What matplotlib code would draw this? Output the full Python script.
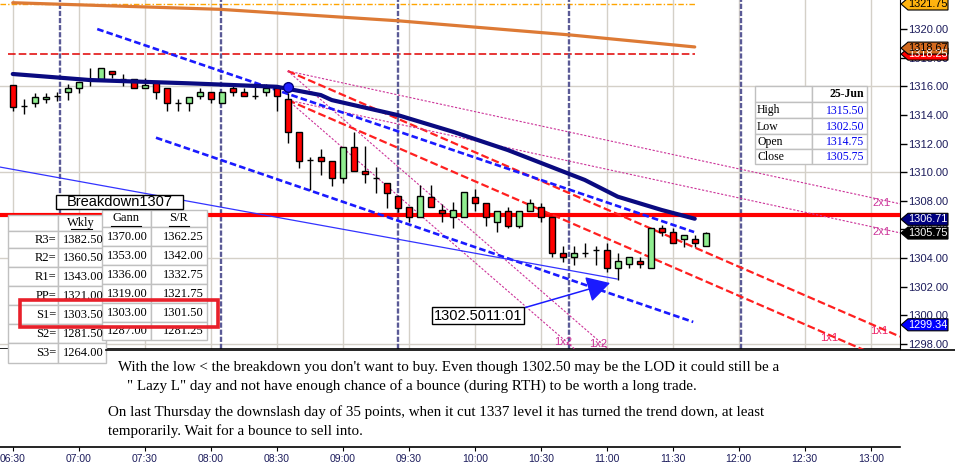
import numpy as np
import matplotlib
matplotlib.use("Agg")
import matplotlib.pyplot as plt
from matplotlib.patches import Rectangle, Polygon
from matplotlib.lines import Line2D
from matplotlib.transforms import blended_transform_factory

plt.rcParams['font.family'] = ['Liberation Sans', 'DejaVu Sans']

W, H = 955, 471

# 5 minute bars, 06:30 .. 11:45 (minutes after midnight)
bar_t = np.arange(390, 706, 5)
opens = [1316.07, 1314.60, 1314.80, 1315.10, 1315.30, 1315.58, 1315.86, 1316.50, 1316.50, 1317.10,
         1316.50, 1316.50, 1315.86, 1316.28, 1315.86, 1314.80, 1314.80, 1315.32, 1315.58, 1314.81,
         1315.86, 1315.58, 1315.30, 1315.58, 1315.86, 1315.09, 1312.83, 1310.85, 1311.04, 1310.80,
         1309.57, 1311.78, 1310.08, 1309.57, 1309.27, 1308.34, 1307.55, 1306.85, 1308.30, 1307.36,
         1306.85, 1306.85, 1308.30, 1307.83, 1306.55, 1307.30, 1306.26, 1307.30, 1307.55, 1306.85,
         1304.34, 1304.06, 1304.34, 1304.57, 1304.57, 1303.29, 1303.57, 1303.80, 1303.29, 1306.08,
         1305.80, 1305.30, 1305.30, 1304.87]
highs = [1316.10, 1315.10, 1315.55, 1315.55, 1315.60, 1316.14, 1316.32, 1317.30, 1317.30, 1317.10,
         1316.84, 1316.50, 1316.55, 1316.28, 1315.86, 1315.10, 1315.27, 1315.86, 1315.58, 1315.58,
         1316.07, 1315.86, 1316.07, 1316.14, 1315.86, 1315.50, 1312.83, 1311.04, 1311.60, 1310.80,
         1311.78, 1312.83, 1311.83, 1310.34, 1309.27, 1308.34, 1307.55, 1309.10, 1309.10, 1307.78,
         1307.94, 1308.60, 1308.80, 1307.83, 1307.30, 1307.55, 1307.30, 1308.10, 1307.83, 1306.85,
         1304.85, 1304.85, 1305.03, 1304.85, 1305.03, 1304.38, 1304.06, 1304.06, 1306.08, 1306.30,
         1306.08, 1305.60, 1305.60, 1305.80]
lows = [1314.27, 1314.05, 1314.57, 1314.80, 1315.00, 1315.04, 1315.55, 1316.04, 1316.50, 1316.60,
        1316.04, 1315.86, 1315.86, 1315.09, 1314.27, 1314.27, 1314.27, 1315.09, 1314.81, 1314.81,
        1315.30, 1315.32, 1315.09, 1315.32, 1314.27, 1312.06, 1310.30, 1308.75, 1309.80, 1309.06,
        1309.27, 1310.08, 1309.27, 1308.57, 1307.52, 1307.24, 1306.54, 1306.85, 1307.55, 1306.54,
        1306.08, 1306.85, 1307.30, 1306.26, 1305.80, 1306.08, 1306.08, 1307.30, 1306.54, 1304.06,
        1303.75, 1303.50, 1304.06, 1303.50, 1303.05, 1302.50, 1303.29, 1303.29, 1303.29, 1305.57,
        1305.03, 1304.80, 1304.80, 1304.87]
closes = [1314.55, 1314.60, 1315.27, 1315.27, 1315.30, 1315.86, 1316.32, 1316.50, 1317.30, 1316.86,
          1316.50, 1315.86, 1316.07, 1315.58, 1314.81, 1314.80, 1315.27, 1315.58, 1315.09, 1315.58,
          1315.58, 1315.32, 1315.30, 1315.86, 1315.32, 1312.83, 1310.80, 1310.85, 1310.80, 1309.57,
          1311.78, 1310.08, 1309.87, 1309.57, 1308.57, 1307.52, 1306.85, 1308.34, 1307.55, 1307.13,
          1307.36, 1308.60, 1307.83, 1306.85, 1307.30, 1306.26, 1307.30, 1307.83, 1306.85, 1304.34,
          1304.06, 1304.34, 1304.34, 1304.57, 1303.29, 1303.80, 1304.06, 1303.57, 1306.08, 1305.80,
          1305.03, 1305.60, 1305.03, 1305.75]

# moving averages (read at a few points)
ma_t = [390, 425, 470, 510, 530, 535, 565, 590, 615, 650, 665, 685, 700]
ma_v = [1316.86, 1316.44, 1316.21, 1315.97, 1315.39, 1315.04, 1313.99, 1312.83, 1311.55, 1309.46,
        1308.29, 1307.36, 1306.75]
slow_t = [390, 484, 565, 644, 700]
slow_v = [1321.84, 1321.38, 1320.58, 1319.58, 1318.75]

breakdown = 1307.0
upper_level = 1321.75
red_level = 1318.25

cycle_t = [411.5, 484.5, 565, 643, 721]

# channel and trendlines: (t0, p0, t1, p1)
chan_up = (428.4, 1320.0, 699.7, 1305.82)
chan_dn = (455.1, 1312.41, 699.3, 1299.54)
trend = (384.2, 1310.36, 664.7, 1302.54)

# gann fans from the 08:35 bar
fan_t0 = 515
fan_p0 = [1317.07, 1315.04]
fan_names = ['2x1', '1x1', '1x2']
fan_slopes = [1 / 6, 1 / 3, 2 / 3]  # points per bar
fan_label_t = [[785, 784, 656], [785, 761, 640]]

tags = [(1321.75, '#ffb30f', 'black'), (1318.25, '#ff0000', 'white'), (1318.67, '#d2691e', 'black'),
        (1306.71, '#000080', 'white'), (1305.75, '#000000', 'white'), (1299.34, '#0000ff', 'white')]

piv_labels = ['R3=', 'R2=', 'R1=', 'PP=', 'S1=', 'S2=', 'S3=']
wkly = ['1382.50', '1360.50', '1343.00', '1321.00', '1303.50', '1281.50', '1264.00']
gann = ['1370.00', '1353.00', '1336.00', '1319.00', '1303.00', '1287.00']
sr = ['1362.25', '1342.00', '1332.75', '1321.75', '1301.50', '1281.25']
day_labels = ['High', 'Low', 'Open', 'Close']
day_values = [1315.50, 1302.50, 1314.75, 1305.75]

xmin, xmax = 384.2, 793.3
ymin, ymax = 1297.65, 1322.03

fig = plt.figure(figsize=(W / 100, H / 100), dpi=100)
ax = fig.add_axes([0, (H - 349) / H, 900 / W, 349 / H])
ax2 = fig.add_axes([0, (H - 447) / H, 900 / W, (447 - 349) / H])

ax.set_xlim(xmin, xmax)
ax.set_ylim(ymin, ymax)
for s in ['left', 'top']:
    ax.spines[s].set_visible(False)
ax.spines['bottom'].set_linewidth(1.2)
ax.yaxis.tick_right()
ax.set_yticks(np.arange(1298, 1321, 2))
ax.set_yticklabels(['%.2f' % v for v in np.arange(1298, 1321, 2)])
ax.tick_params(axis='y', length=5, width=1, labelsize=8, labelcolor='#1c1c5c', pad=1)
ax.set_xticks(np.arange(390, 781, 30))
ax.tick_params(axis='x', length=0, labelbottom=False)
ax.grid(axis='x', color='#d4d0c8', lw=1, zorder=0)
ax.set_axisbelow(True)
for p in [1298, 1304, 1310, 1316]:
    ax.axhline(p, color='#d4d0c8', lw=1, zorder=0)

# reference levels
ax.plot([xmin, 700], [upper_level] * 2, color='#ffa500', lw=1, dashes=(4, 1.5, 1, 1.5), zorder=2)
ax.plot([388, 700], [red_level] * 2, color='#e00000', lw=1.1, dashes=(5, 2), zorder=2)
ax.axhline(breakdown, color='#ff0000', lw=3, zorder=3)
for t in cycle_t:
    ax.axvline(t, color='#5a5a96', lw=1.7, dashes=(2.2, 0.8), zorder=2)

# fans
for k, p0 in enumerate(fan_p0):
    for j, (nm, s) in enumerate(zip(fan_names, fan_slopes)):
        tt = np.array([fan_t0, xmax])
        pp = p0 - s / 5 * (tt - fan_t0)
        if nm == '1x1':
            ax.plot(tt, pp, color='#ff2020', lw=1.6, dashes=(3.5, 1.5), zorder=3)
            col = '#ee2266'
        else:
            ax.plot(tt, pp, color='#cc3399', lw=0.8, dashes=(2, 1.5), zorder=3)
            col = '#cc3399'
        lt = fan_label_t[k][j]
        ax.text(lt, p0 - s / 5 * (lt - fan_t0) - 0.25, nm, color=col, fontsize=8,
                ha='center', va='center', zorder=6)

# channel
for c in [chan_up, chan_dn]:
    ax.plot([c[0], c[2]], [c[1], c[3]], color='#1a1aff', lw=1.9, dashes=(2.5, 1.2), zorder=3)
ax.plot([trend[0], trend[2]], [trend[1], trend[3]], color='#3333ff', lw=0.9, zorder=3)

ax.plot(slow_t, slow_v, color='#dd7a35', lw=2.3, zorder=3, solid_capstyle='round')

# candles
o = np.array(opens); c = np.array(closes)
ax.vlines(bar_t, lows, highs, color='black', lw=1, zorder=4)
cols = np.where(c < o, '#ff0000', '#90ee90')
ax.bar(bar_t, c - o, bottom=o, width=2.9, color=cols, edgecolor='black', lw=1, zorder=4.5)

ax.plot(ma_t, ma_v, color='#0a0a80', lw=3, zorder=5, solid_capstyle='round')
ax.plot(515, 1315.97, 'o', ms=7, mfc='#2020ff', mec='#000080', zorder=6)

# low annotation
ax.annotate('', xy=(661.5, 1302.26), xytext=(619.2, 1300.38),
            arrowprops=dict(arrowstyle='-|>,head_length=0.8,head_width=0.45', color='#1a1aff',
                            lw=1.1, mutation_scale=18, shrinkA=0, shrinkB=0), zorder=6)
ax.text(601.5, 1299.99, '1302.5011:01', fontsize=10.5, ha='center', va='center', zorder=7,
        bbox=dict(boxstyle='square,pad=0.12', fc='white', ec='black', lw=1))

# price tags on right axis
bt = blended_transform_factory(ax.transAxes, ax.transData)
hh = 6 / 14.32
for v, fc, tc in tags:
    poly = Polygon([(901 / 900, v), (908 / 900, v + hh), (948 / 900, v + hh),
                    (948 / 900, v - hh), (908 / 900, v - hh)], closed=True, transform=bt,
                   fc=fc, ec='black', lw=0.8, clip_on=False, zorder=8)
    ax.add_patch(poly)
    ax.text(928 / 900, v, '%.2f' % v, transform=bt, color=tc, fontsize=7.8, ha='center',
            va='center', clip_on=False, zorder=9)

# lower time axis
ax2.set_xlim(xmin, xmax)
for s in ['left', 'top', 'right']:
    ax2.spines[s].set_visible(False)
ax2.spines['bottom'].set_linewidth(1.2)
ax2.set_yticks([])
tk = np.arange(390, 781, 30)
ax2.set_xticks(tk)
ax2.set_xticklabels(['%02d:%02d' % (t // 60, t % 60) for t in tk])
ax2.tick_params(axis='x', length=3, labelsize=7.5, labelcolor='#1c1c5c', pad=2)


def fx(px):
    return px / W


def fy(py):
    return 1 - py / H


def rect(x0, y0, x1, y1, fc='white', ec='#c0c0c0', lw=1, z=5):
    fig.add_artist(Rectangle((fx(x0), fy(y1)), fx(x1) - fx(x0), fy(y0) - fy(y1),
                             transform=fig.transFigure, fc=fc, ec=ec, lw=lw, zorder=z))


def txt(x, y, s, ha='left', **kw):
    kw.setdefault('fontsize', 9)
    kw.setdefault('family', ['Liberation Serif', 'DejaVu Serif'])
    fig.text(fx(x), fy(y), s, ha=ha, va='center', zorder=7, **kw)


def uline(x0, x1, y):
    fig.add_artist(Line2D([fx(x0), fx(x1)], [fy(y), fy(y)], transform=fig.transFigure,
                          color='black', lw=0.8, zorder=7))


# breakdown label
rect(56, 195, 183, 209, ec='black', z=6)
fig.text(fx(119.5), fy(202), 'Breakdown1307', fontsize=10.5, ha='center', va='center', zorder=7)

# weekly pivot table
wy = [215, 231, 248, 267, 286, 305, 324, 343, 363]
rect(8, wy[0], 58, wy[1]); rect(58, wy[0], 106, wy[1])
txt(81, 223, 'Wkly', ha='center')
uline(71, 92, 229)
for i in range(7):
    rect(8, wy[i + 1], 58, wy[i + 2])
    rect(58, wy[i + 1], 106, wy[i + 2])
    ym = (wy[i + 1] + wy[i + 2]) / 2 + 0.5
    txt(56, ym, piv_labels[i], ha='right')
    txt(63, ym, wkly[i])

gy = [210, 227, 246, 265, 284, 303, 322, 340]
rect(102, gy[0], 151, gy[1]); rect(151, gy[0], 207, gy[1])
txt(126, 218, 'Gann', ha='center')
txt(179, 218, 'S/R', ha='center')
uline(111, 141, 226)
uline(169, 189, 226)
for i in range(6):
    rect(102, gy[i + 1], 151, gy[i + 2])
    rect(151, gy[i + 1], 207, gy[i + 2])
    ym = (gy[i + 1] + gy[i + 2]) / 2 + 0.5
    txt(127, ym, gann[i], ha='center')
    txt(204, ym, sr[i], ha='right')

rect(20, 300, 218, 327, fc='none', ec='#e8202a', lw=2.6, z=8)

# day stats table
dy = [86, 102, 118, 134, 149, 164]
rect(755, dy[0], 812, dy[1]); rect(812, dy[0], 867, dy[1])
txt(864, 94, '25-Jun', ha='right', fontweight='bold', fontsize=8.5)
for i in range(4):
    rect(755, dy[i + 1], 812, dy[i + 2])
    rect(812, dy[i + 1], 867, dy[i + 2])
    ym = (dy[i + 1] + dy[i + 2]) / 2 + 0.5
    txt(757, ym, day_labels[i], fontsize=8.5)
    txt(864, ym, '%.2f' % day_values[i], ha='right', color='#0000ee', fontsize=8.5)

# comment box
fig.add_artist(Line2D([fx(106), 1], [fy(350), fy(350)], transform=fig.transFigure,
                      color='black', lw=1.2, zorder=6))
note = dict(fontsize=10.8, color='black')
txt(118, 367, "With the low < the breakdown you don't want to buy. Even though 1302.50 may be the LOD it could still be a", **note)
txt(126.5, 386, '" Lazy L" day and not have enough chance of a bounce (during RTH) to be worth a long trade.', **note)
txt(108, 412, 'On last Thursday the downslash day of 35 points, when it cut 1337 level it has turned the trend down, at least', **note)
txt(108, 431, 'temporarily. Wait for a bounce to sell into.', **note)

fig.savefig('out.png', dpi=100)
